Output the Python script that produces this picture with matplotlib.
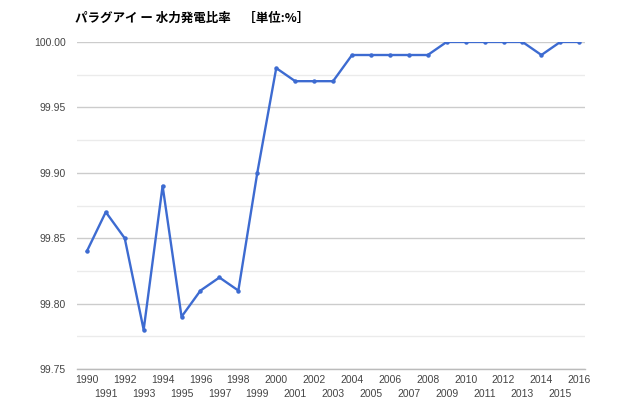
import matplotlib
matplotlib.use("Agg")
import matplotlib.pyplot as plt
from matplotlib.ticker import MultipleLocator, FixedLocator

plt.rcParams['font.family'] = ['Noto Sans CJK JP', 'DejaVu Sans']

years = list(range(1990, 2017))
ratio = [99.84, 99.87, 99.85, 99.78, 99.89, 99.79, 99.81, 99.82, 99.81, 99.90,
         99.98, 99.97, 99.97, 99.97, 99.99, 99.99, 99.99, 99.99, 99.99, 100.00,
         100.00, 100.00, 100.00, 100.00, 99.99, 100.00, 100.00]
title = "パラグアイ ー 水力発電比率　［単位:%］"

fig = plt.figure(figsize=(6.4, 4.11), dpi=100)
ax = fig.add_axes([0.12, 0.102, 0.794, 0.796])

ax.plot(years, ratio, color="#3d6bd1", linewidth=1.7, marker="o", markersize=2.2, zorder=3)

ax.set_ylim(99.75, 100.0)
ax.set_xlim(1989.47, 2016.3)
ax.yaxis.set_major_locator(MultipleLocator(0.05))
ax.yaxis.set_minor_locator(MultipleLocator(0.025))
ax.yaxis.set_major_formatter(plt.FuncFormatter(lambda v, p: f"{v:.2f}"))
ax.grid(axis="y", which="major", color="#cccccc", linewidth=1)
ax.grid(axis="y", which="minor", color="#ebebeb", linewidth=1)
ax.axhline(99.75, color="#bbbbbb", linewidth=1, clip_on=False, zorder=1)
ax.set_axisbelow(True)

# even years on the first row, odd years on the second
even = [y for y in years if y % 2 == 0]
odd = [y for y in years if y % 2 == 1]
ax.xaxis.set_major_locator(FixedLocator(even))
ax.xaxis.set_minor_locator(FixedLocator(odd))
ax.set_xticklabels([str(y) for y in even])
ax.set_xticklabels([str(y) for y in odd], minor=True)

ax.tick_params(axis="both", which="both", length=0, labelsize=7.5, labelcolor="#444444")
ax.tick_params(axis="y", pad=8)
ax.tick_params(axis="x", which="major", pad=4)
ax.tick_params(axis="x", which="minor", pad=14)
ax.tick_params(axis="y", which="minor", labelleft=False)
for lbl in ax.get_xticklabels() + ax.get_xticklabels(minor=True) + ax.get_yticklabels():
    lbl.set_family(['Liberation Sans', 'DejaVu Sans'])
for s in ax.spines.values():
    s.set_visible(False)

fig.text(0.117, 0.955, title, fontsize=9, fontweight="bold", color="#000000", va="center")

fig.savefig("out.png", dpi=100)
